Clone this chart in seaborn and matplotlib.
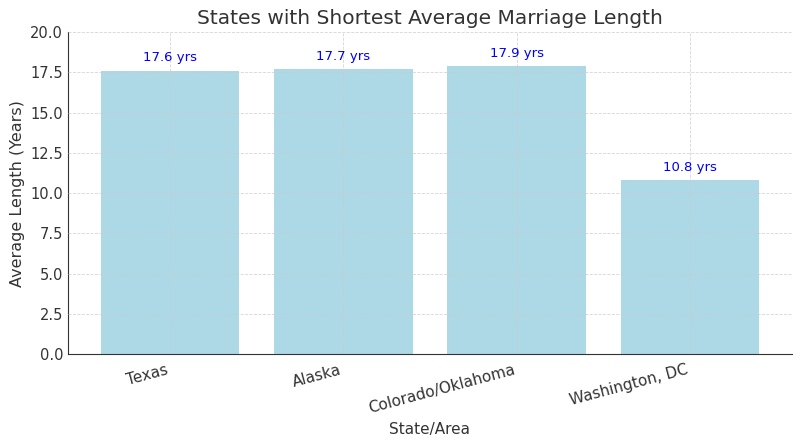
import matplotlib
matplotlib.use('Agg')
import matplotlib.pyplot as plt
import seaborn as sns
import pandas as pd

states = ['Texas', 'Alaska', 'Colorado/Oklahoma', 'Washington, DC']
lengths = [17.6, 17.7, 17.9, 10.8]

df = pd.DataFrame({'state': states, 'length': lengths})

sns.set_style('white')
plt.rcParams['font.family'] = ['DejaVu Sans']
plt.rcParams['text.color'] = '#333333'
plt.rcParams['axes.labelcolor'] = '#333333'
plt.rcParams['xtick.color'] = '#333333'
plt.rcParams['ytick.color'] = '#333333'
plt.rcParams['xtick.direction'] = 'in'
plt.rcParams['ytick.direction'] = 'in'

fig, ax = plt.subplots(figsize=(8, 4.41), dpi=100)
sns.barplot(data=df, x='state', y='length', color='lightblue', saturation=1,
            width=0.8, edgecolor='none', ax=ax)
ax.set_xlim(-0.59, 3.59)
ax.set_ylim(0, 20)

# value labels above bars
for i, v in enumerate(lengths):
    ax.text(i, v + 0.4, f'{v} yrs', ha='center', va='bottom', color='blue', fontsize=9.5)

ax.set_title('States with Shortest Average Marriage Length', fontsize=14.5)
ax.set_xlabel('State/Area', fontsize=11)
ax.set_ylabel('Average Length (Years)', fontsize=11.5)
plt.xticks(rotation=15, ha='right', fontsize=11)
plt.yticks(fontsize=10.5)
ax.tick_params(axis='x', pad=6)
ax.grid(True, linestyle='--', color='#cccccc', linewidth=0.6, alpha=0.8)
ax.set_axisbelow(False)
for b in ax.patches:
    b.set_zorder(1)
ax.spines['top'].set_visible(False)
ax.spines['right'].set_visible(False)
ax.spines['left'].set_color('#333333')
ax.spines['bottom'].set_color('#333333')

plt.subplots_adjust(left=0.085, right=0.99, top=0.927, bottom=0.197)
plt.savefig('out.png', dpi=100)
